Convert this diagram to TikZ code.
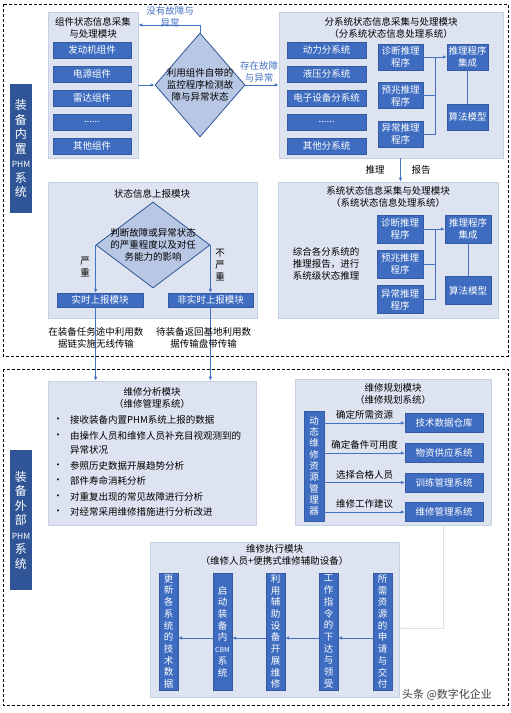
\documentclass[tikz,border=0pt]{standalone}
\usepackage{fontspec}
\setmainfont{Noto Sans CJK SC}
\usetikzlibrary{shapes.geometric,arrows.meta}

\definecolor{panelfill}{RGB}{221,227,240}
\definecolor{panelline}{RGB}{198,208,226}
\definecolor{boxblue}{RGB}{62,108,192}
\definecolor{labelnavy}{RGB}{47,85,151}
\definecolor{diafill}{RGB}{184,200,228}
\definecolor{flowblue}{RGB}{68,114,196}

\tikzset{
  every node/.style={font=\fontsize{9.5}{12}\selectfont, align=center, inner sep=0pt},
  panel/.style={fill=panelfill, draw=panelline, line width=0.6pt},
  bluebox/.style={fill=boxblue, draw=boxblue!85!black, line width=0.3pt, text=white},
  unit/.style={bluebox, minimum width=78pt, minimum height=16pt},
  infer/.style={bluebox, minimum width=45pt, minimum height=26pt},
  column/.style={bluebox, minimum width=19pt, minimum height=117pt, font=\fontsize{9.5}{11.7}\selectfont},
  sidelabel/.style={fill=labelnavy, text=white, minimum width=22pt, font=\fontsize{12}{14.5}\selectfont},
  decision/.style={diamond, draw=labelnavy, fill=diafill, line width=0.8pt},
  flow/.style={draw=flowblue, line width=0.8pt, -{Latex[length=4pt,width=3.5pt]}},
  link/.style={draw=flowblue, line width=0.8pt},
  faint/.style={draw=black!12, line width=0.6pt, -{Latex[length=3pt,width=2.5pt]}},
  frame/.style={densely dashed, line width=0.6pt},
  note/.style={text=flowblue},
}

\begin{document}
\begin{tikzpicture}[x=1pt,y=-1pt]
\useasboundingbox (0,0) rectangle (511,713);
\fill[white] (0,0) rectangle (511,713);

% two dashed frames
\draw[frame] (3,4) rectangle (508,356);
\draw[frame] (3,369) rectangle (508,705);

% side labels
\node[sidelabel, minimum height=129pt] (inlab) at (21,148.5) {装\\备\\内\\置\\{\fontsize{8.5}{10}\selectfont PHM}\\系\\统};
\node[sidelabel, minimum height=140pt] (outlab) at (21,520) {装\\备\\外\\部\\{\fontsize{8.5}{10}\selectfont PHM}\\系\\统};

% component module
\node[panel, minimum width=90pt, minimum height=146pt] (comp) at (93,85) {};
\node (compt) at (93,28) {组件状态信息采集\\与处理模块};
\node[unit] (c1) at (92,50) {发动机组件};
\node[unit] (c2) at (92,74) {电源组件};
\node[unit] (c3) at (92,98) {雷达组件};
\node[unit] (c4) at (92,122) {......};
\node[unit] (c5) at (92,146) {其他组件};

% monitoring check
\node[decision, minimum width=90pt, minimum height=104pt] (chk) at (200,85) {};
\node (chkt) at (chk) {利用组件自带的\\监控程序检测故\\障与异常状态};
\coordinate (ok) at (200,25);
\draw[flow] (comp.east) -- (chk.west);
\draw[flow] (chk.north) -- (ok) -- (ok -| comp.east);
\node[note] (okt) at (170,17) {没有故障与\\异常};

% subsystem module
\node[panel, minimum width=224pt, minimum height=146pt] (sub) at (391,85) {};
\node (subt) at (391,27.5) {分系统状态信息采集与处理模块\\（分系统状态信息处理系统）};
\node[unit, minimum width=79pt] (s1) at (326.5,50) {动力分系统};
\node[unit, minimum width=79pt] (s2) at (326.5,74) {液压分系统};
\node[unit, minimum width=79pt] (s3) at (326.5,98) {电子设备分系统};
\node[unit, minimum width=79pt] (s4) at (326.5,122) {......};
\node[unit, minimum width=79pt] (s5) at (326.5,146) {其他分系统};
\node[infer] (p1) at (400.5,57) {诊断推理\\程序};
\node[infer] (p2) at (400.5,95.5) {预兆推理\\程序};
\node[infer] (p3) at (400.5,134) {异常推理\\程序};
\node[infer, minimum width=41pt] (int1) at (467.5,57) {推理程序\\集成};
\node[infer, minimum width=41pt] (alg1) at (467.5,117) {算法模型};
\coordinate (sj) at (435,57);
\draw[flow] (p1.east) -- (int1.west);
\draw[link] (p2.east) -| (sj);
\draw[link] (p3.east) -| (sj);
\draw[link] (int1.south) -- (alg1.north);
\draw[flow] (chk.east) -- (sub.west);
\node[note] (badt) at (259,72) {存在故障\\与异常};

% system module
\node[panel, minimum width=220pt, minimum height=136pt] (sys) at (388,250) {};
\node (syst) at (388,197) {系统状态信息采集与处理模块\\（系统状态信息处理系统）};
\node[infer, minimum width=46pt, minimum height=28pt] (q1) at (400,229) {诊断推理\\程序};
\node[infer, minimum width=46pt, minimum height=28pt] (q2) at (400,264) {预兆推理\\程序};
\node[infer, minimum width=46pt, minimum height=28pt] (q3) at (400,299.5) {异常推理\\程序};
\node[infer, minimum width=46pt, minimum height=28pt] (int2) at (468,229) {推理程序\\集成};
\node[infer, minimum width=46pt, minimum height=28pt] (alg2) at (468,290.5) {算法模型};
\coordinate (qj) at (435,229);
\draw[flow] (q1.east) -- (int2.west);
\draw[link] (q2.east) -| (qj);
\draw[link] (q3.east) -| (qj);
\draw[link] (int2.south) -- (alg2.north);
\node (sumt) at (326,264) {综合各分系统的\\推理报告，进行\\系统级状态推理};
\draw[flow] (p3.south |- sub.south) -- (p3.south |- sys.north);
\node (tl) at (375,170) {推理};
\node (bg) at (421,170) {报告};

% report module
\node[panel, minimum width=209pt, minimum height=136pt] (rep) at (152.5,250) {};
\node (rept) at (152,194) {状态信息上报模块};
\node[decision, minimum width=114pt, minimum height=86pt] (sev) at (153,245) {};
\node (sevt) at (sev) {判断故障或异常状态\\的严重程度以及对任\\务能力的影响};
\node[bluebox, minimum width=86pt, minimum height=14pt] (rt) at (100,300) {实时上报模块};
\node[bluebox, minimum width=85pt, minimum height=14pt] (nrt) at (210.5,300) {非实时上报模块};
\draw[flow] (sev.west) -- (sev.west |- rt.north);
\draw[flow] (sev.east) -- (sev.east |- nrt.north);
\node (sevy) at (85,266.5) {严\\重};
\node (sevn) at (220,265) {不\\严\\重};

% lower frame: analysis module
\node[panel, minimum width=208pt, minimum height=144pt] (ana) at (152,453) {};
\node (anat) at (152,398) {维修分析模块\\（维修管理系统）};
\draw[flow] (rt.south -| sev.west) -- (sev.west |- ana.north);
\draw[flow] (nrt.south -| sev.east) -- (sev.east |- ana.north);
\node (wl) at (96,337.5) {在装备任务途中利用数\\据链实施无线传输};
\node (tape) at (203.5,337.5) {待装备返回基地利用数\\据传输盘带传输};
\foreach \y/\t [count=\i] in {420/接收装备内置PHM系统上报的数据, 436/由操作人员和维修人员补充目视观测到的,
    466/参照历史数据开展趋势分析, 481/部件寿命消耗分析, 497/对重复出现的常见故障进行分析, 512/对经常采用维修措施进行分析改进} {
  \node (dot\i) at (58,\y) {\textbullet};
  \node[anchor=west] (item\i) at (70,\y) {\t};
}
\node[anchor=west] (item2b) at (70,450) {异常状况};

% planning module
\node[panel, minimum width=196pt, minimum height=146pt] (plan) at (393,452) {};
\node (plant) at (393,393.5) {维修规划模块\\（维修规划系统）};
\node[bluebox, minimum width=20pt, minimum height=110pt, font=\fontsize{9.5}{11.3}\selectfont] (mgr) at (314,466) {动\\态\\维\\修\\资\\源\\管\\理\\器};
\node[bluebox, minimum width=78pt, minimum height=19pt] (r1) at (444,423) {技术数据仓库};
\node[bluebox, minimum width=78pt, minimum height=19pt] (r2) at (444,453) {物资供应系统};
\node[bluebox, minimum width=78pt, minimum height=19pt] (r3) at (444,482.5) {训练管理系统};
\node[bluebox, minimum width=78pt, minimum height=19pt] (r4) at (444,512) {维修管理系统};
\draw[flow] (mgr.east |- r1) -- node[above=3pt] (l1) {确定所需资源} (r1.west);
\draw[flow] (mgr.east |- r2) -- node[above=3pt] (l2) {确定备件可用度} (r2.west);
\draw[flow] (mgr.east |- r3) -- node[above=3pt] (l3) {选择合格人员} (r3.west);
\draw[flow] (mgr.east |- r4) -- node[above=3pt] (l4) {维修工作建议} (r4.west);

% execution module
\node[panel, minimum width=249pt, minimum height=155pt] (exe) at (274.5,619.5) {};
\node (exet) at (274.5,555) {维修执行模块\\（维修人员+便携式维修辅助设备）};
\node[column] (e1) at (168.5,631.5) {更\\新\\各\\系\\统\\的\\技\\术\\数\\据};
\node[column] (e2) at (222.5,631.5) {启\\动\\装\\备\\内\\{\fontsize{7}{9}\selectfont CBM}\\系\\统};
\node[column] (e3) at (275.5,631.5) {利\\用\\辅\\助\\设\\备\\开\\展\\维\\修};
\node[column] (e4) at (328.5,631.5) {工\\作\\指\\令\\的\\下\\达\\与\\领\\受};
\node[column] (e5) at (382.5,631.5) {所\\需\\资\\源\\的\\申\\请\\与\\交\\付};
\draw[flow] ([yshift=-6.5pt]e5.west) -- ([yshift=-6.5pt]e4.east);
\draw[flow] ([yshift=-6.5pt]e4.west) -- ([yshift=-6.5pt]e3.east);
\draw[flow] ([yshift=-6.5pt]e3.west) -- ([yshift=-6.5pt]e2.east);
\draw[flow] ([yshift=-6.5pt]e2.west) -- ([yshift=-6.5pt]e1.east);
\coordinate (fb) at (443,628);
\draw[faint] (plan.south -| fb) -- (fb) -- (fb -| exe.east);

\node[text=black!75, font=\fontsize{11}{13}\selectfont] (wm) at (447,695) {头条 @数字化企业};
\end{tikzpicture}
\end{document}
